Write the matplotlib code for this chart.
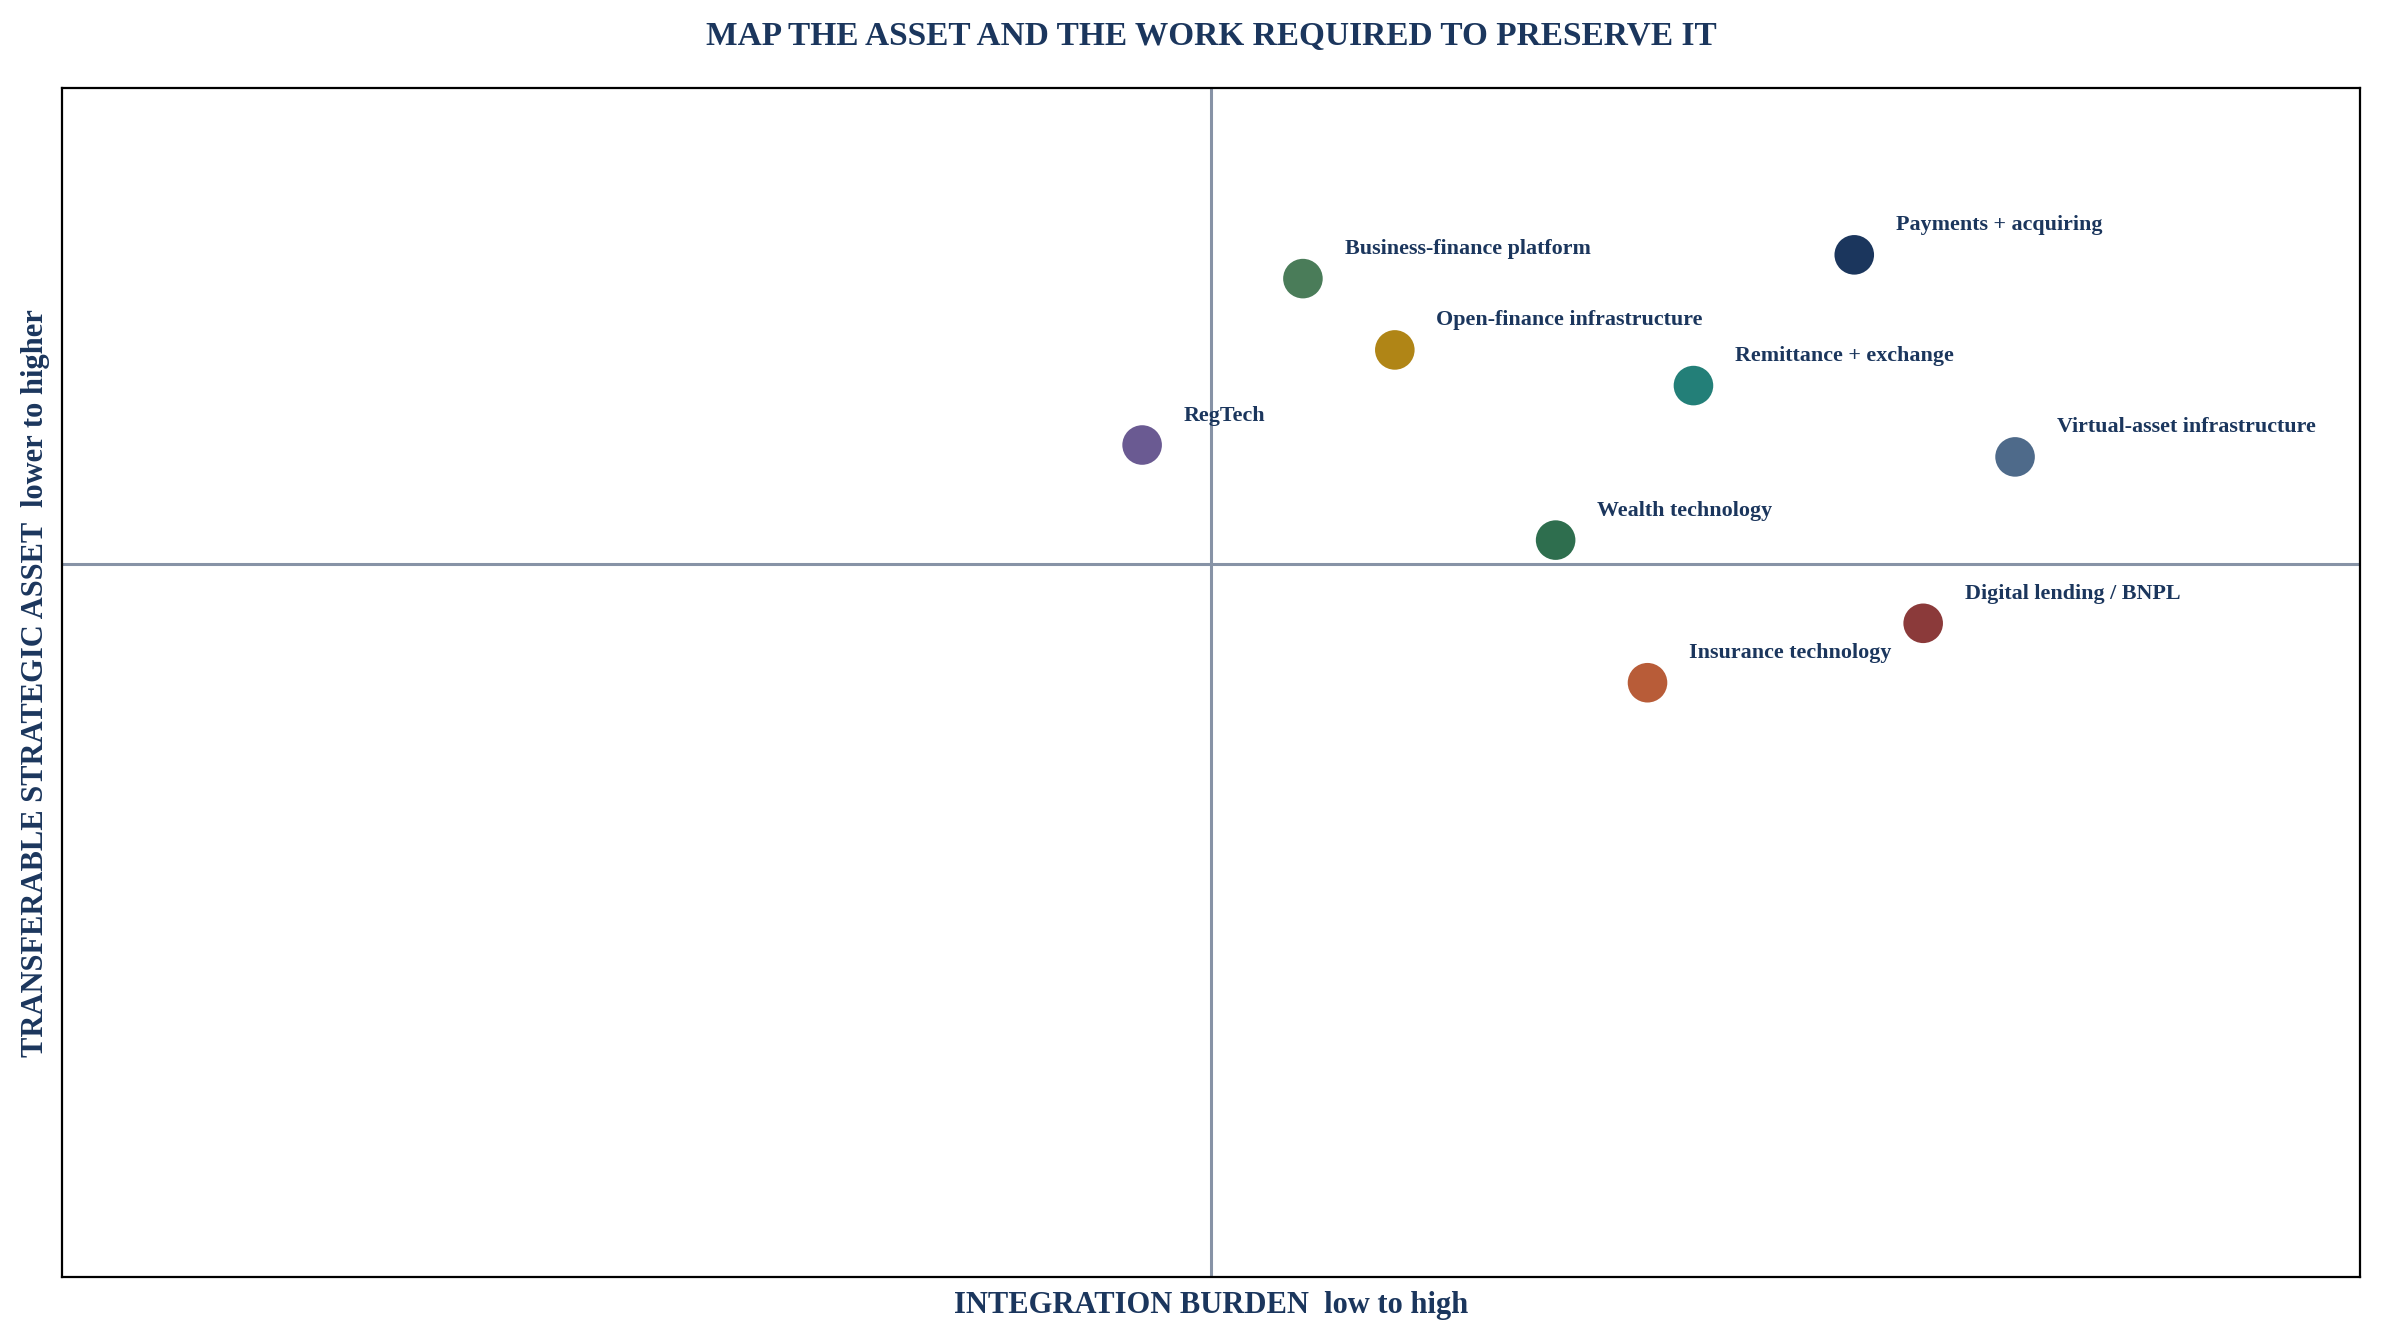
import matplotlib
matplotlib.use("Agg")
import matplotlib.pyplot as plt

labels = ["RegTech", "Business-finance platform", "Open-finance infrastructure",
          "Payments + acquiring", "Remittance + exchange", "Virtual-asset infrastructure",
          "Wealth technology", "Digital lending / BNPL", "Insurance technology"]
integration = [47, 54, 58, 78, 71, 85, 65, 81, 69]
strategic = [70, 84, 78, 86, 75, 69, 62, 55, 50]
colors = ["#6a5a92", "#4a7c59", "#b08516", "#1b365d", "#237f78", "#4e6a8a",
          "#2e6e4e", "#8b3a3a", "#b85c38"]

x_mid = 50
y_mid = 60
navy = "#1b365d"

plt.rcParams['font.family'] = ['Liberation Serif', 'DejaVu Serif']

fig = plt.figure(figsize=(23.83, 13.40), dpi=100)
ax = fig.add_axes([0.0262, 0.047, 0.964, 0.887])
ax.set_xlim(0, 100)
ax.set_ylim(0, 100)

ax.axvline(x_mid, color="#8793a6", lw=2.2, zorder=1)
ax.axhline(y_mid, color="#8793a6", lw=2.2, zorder=1)

ax.scatter(integration, strategic, s=900, c=colors, edgecolors="white",
           linewidths=1.5, zorder=3)
for xv, yv, lab in zip(integration, strategic, labels):
    ax.annotate(lab, (xv, yv), xytext=(30, 14), textcoords="offset points",
                fontsize=15.8, fontweight="bold", color=navy, ha="left", va="bottom",
                zorder=4)

ax.set_xticks([])
ax.set_yticks([])
for sp in ax.spines.values():
    sp.set_linewidth(1.6)
    sp.set_color("black")

ax.set_title("MAP THE ASSET AND THE WORK REQUIRED TO PRESERVE IT", fontsize=24,
             fontweight="bold", color=navy, pad=31)
ax.set_xlabel("INTEGRATION BURDEN  low to high", fontsize=22, fontweight="bold",
              color=navy, labelpad=10)
ax.set_ylabel("TRANSFERABLE STRATEGIC ASSET  lower to higher", fontsize=22,
              fontweight="bold", color=navy, labelpad=9)

fig.savefig("out.png", dpi=100, facecolor="white")
